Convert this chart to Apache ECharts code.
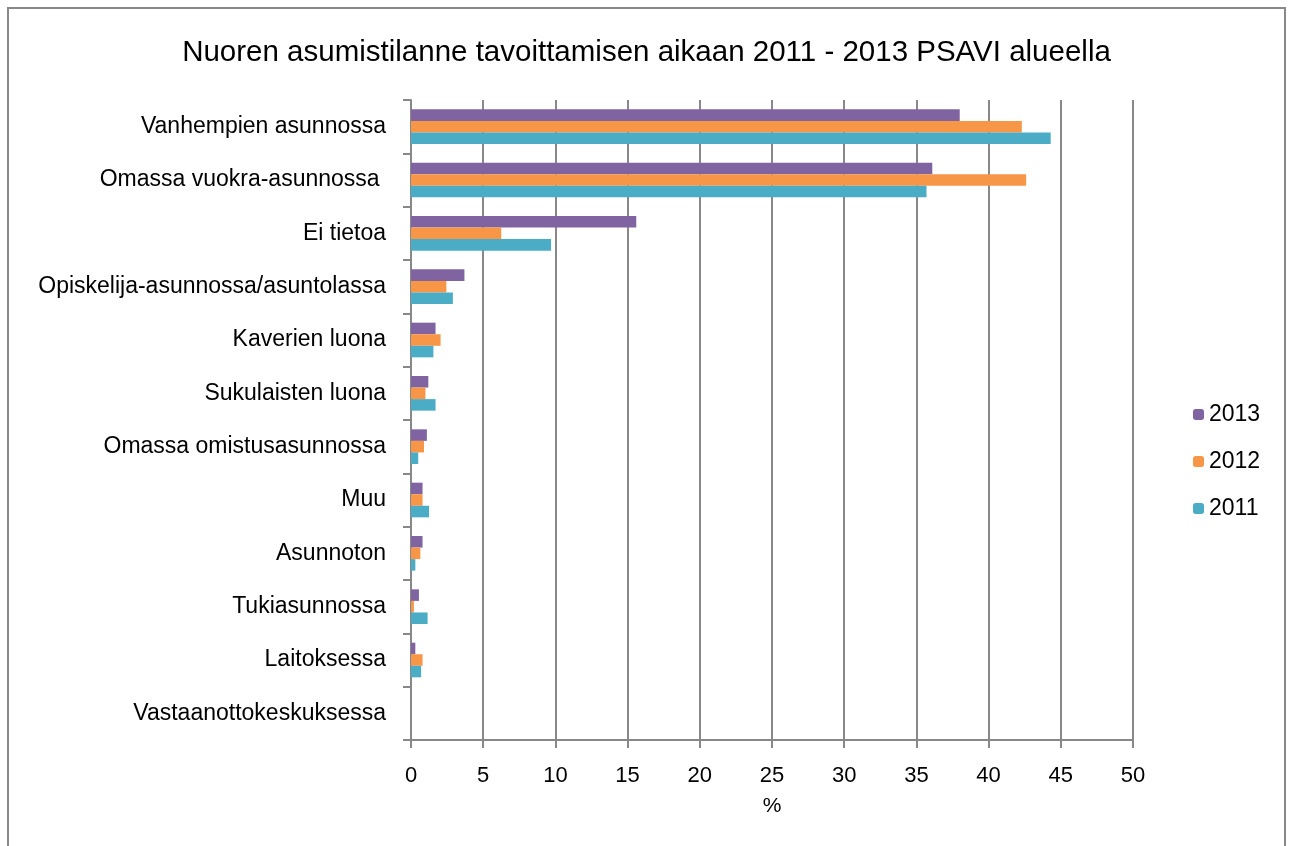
<!DOCTYPE html>
<html>
<head>
<meta charset="utf-8">
<script src="https://cdn.jsdelivr.net/npm/echarts@6/dist/echarts.min.js"></script>
<style>
  html, body { margin: 0; padding: 0; background: #fff; }
  #main { width: 1293px; height: 846px; }
</style>
</head>
<body>
<div id="main"></div>
<script>
var categories = [
  'Vanhempien asunnossa',
  'Omassa vuokra-asunnossa ',
  'Ei tietoa',
  'Opiskelija-asunnossa/asuntolassa',
  'Kaverien luona',
  'Sukulaisten luona',
  'Omassa omistusasunnossa',
  'Muu',
  'Asunnoton',
  'Tukiasunnossa',
  'Laitoksessa',
  'Vastaanottokeskuksessa'
];
var years = ['2013', '2012', '2011'];
var values2013 = [38.0, 36.1, 15.6, 3.7, 1.7, 1.2, 1.1, 0.8, 0.8, 0.55, 0.3, 0];
var values2012 = [42.3, 42.6, 6.25, 2.45, 2.05, 1.0, 0.9, 0.8, 0.65, 0.2, 0.8, 0];
var values2011 = [44.3, 35.7, 9.7, 2.9, 1.55, 1.7, 0.5, 1.25, 0.3, 1.15, 0.7, 0];
var xTicks = [0, 5, 10, 15, 20, 25, 30, 35, 40, 45, 50];

var colors = ['#8064A2', '#F79646', '#4BACC6'];
var font = "'Liberation Sans', Arial, sans-serif";

var myChart = echarts.init(document.getElementById('main'));
var option = {
  color: colors,
  textStyle: { fontFamily: font },
  title: {
    text: 'Nuoren asumistilanne tavoittamisen aikaan 2011 - 2013 PSAVI alueella',
    left: 'center',
    top: 33,
    textStyle: { fontFamily: font, fontSize: 29.5, fontWeight: 'normal', color: '#000' }
  },
  graphic: [{
    type: 'rect',
    shape: { x: 8, y: 8, width: 1277, height: 860 },
    style: { fill: 'none', stroke: '#898989', lineWidth: 2 },
    silent: true
  }],
  legend: {
    orient: 'vertical',
    left: 1188,
    top: 398,
    itemGap: 24,
    itemWidth: 11,
    itemHeight: 11,
    textStyle: { fontFamily: font, fontSize: 23, color: '#000' },
    data: years
  },
  grid: { left: 411, right: 160, top: 100, bottom: 106 },
  xAxis: {
    type: 'value',
    min: xTicks[0],
    max: xTicks[xTicks.length - 1],
    interval: 5,
    name: '%',
    nameLocation: 'middle',
    nameGap: 56,
    nameTextStyle: { fontFamily: font, fontSize: 21, color: '#000' },
    axisLine: { show: true, lineStyle: { color: '#888', width: 2 } },
    axisTick: { show: true, length: 8, lineStyle: { color: '#888', width: 2 } },
    axisLabel: { fontFamily: font, fontSize: 22, color: '#000', margin: 25 },
    splitLine: { show: true, lineStyle: { color: '#888', width: 2 } }
  },
  yAxis: {
    type: 'category',
    inverse: true,
    data: categories,
    axisLine: { show: true, lineStyle: { color: '#888', width: 2 } },
    axisTick: { show: true, length: 8, lineStyle: { color: '#888', width: 2 } },
    axisLabel: { fontFamily: font, fontSize: 23, color: '#000', margin: 25 }
  },
  series: [
    { name: years[0], type: 'bar', data: values2013, barGap: '0%', barCategoryGap: '35%' },
    { name: years[1], type: 'bar', data: values2012, barGap: '0%', barCategoryGap: '35%' },
    { name: years[2], type: 'bar', data: values2011, barGap: '0%', barCategoryGap: '35%' }
  ]
};
myChart.setOption(option);
window.onresize = myChart.resize;
</script>
</body>
</html>
